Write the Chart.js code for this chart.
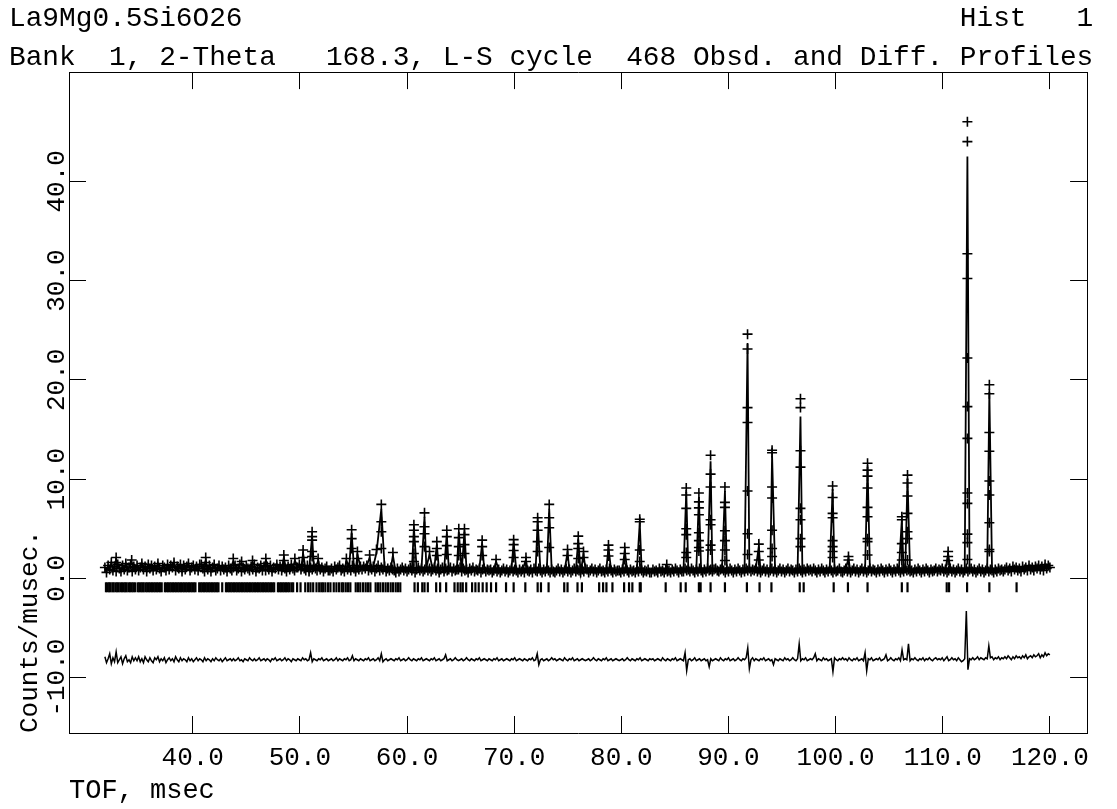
<!DOCTYPE html>
<html>
<head>
<meta charset="utf-8">
<script src="https://cdn.jsdelivr.net/npm/chart.js@4.4.0/dist/chart.umd.min.js"></script>
<style>
  html, body { margin: 0; padding: 0; background: #fff; }
  canvas { display: block; }
</style>
</head>
<body>
<canvas id="profileChart" width="1117" height="809"></canvas>
<script>
// background channels: first TOF and channel step (msec)
const bgStart = 31.8;
const bgStep = 0.15;

// observed counts on the background channels (one row = 3 msec)
const bgCounts = [
  1.1, 0.6, 1.3, 0.9, 1.6, 0.8, 1.2, 0.7, 1.4, 1.0, 0.7, 1.3, 0.9, 1.5, 0.8, 1.1, 1.4, 0.7, 1.2, 0.9,
  1.3, 0.8, 1.1, 1.5, 0.9, 1.2, 0.7, 1.4, 1.0, 1.3, 0.8, 1.2, 0.9, 1.5, 1.0, 0.7, 1.3, 1.1, 0.8, 1.4,
  0.9, 1.3, 1.1, 1.6, 0.8, 1.2, 1.0, 1.4, 0.7, 1.3, 0.9, 1.2, 1.5, 0.8, 1.1, 1.3, 0.9, 1.2, 0.8, 1.4,
  1.4, 1.0, 0.7, 1.2, 0.9, 1.3, 0.7, 1.1, 1.4, 0.8, 1.0, 1.3, 0.8, 1.2, 0.9, 1.1, 0.7, 1.3, 1.0, 0.8,
  1.1, 1.3, 0.8, 1.0, 1.4, 0.7, 1.1, 0.9, 1.3, 1.0, 0.8, 1.2, 0.9, 1.4, 0.7, 1.1, 1.0, 1.3, 0.8, 1.2,
  0.8, 1.2, 0.9, 1.3, 0.7, 1.1, 1.0, 1.4, 0.9, 1.2, 0.8, 1.3, 1.0, 0.7, 1.2, 0.9, 1.4, 1.0, 0.8, 1.1,
  1.1, 1.4, 0.9, 1.2, 1.0, 0.8, 1.3, 0.7, 1.1, 0.9, 1.2, 1.0, 0.8, 1.3, 0.9, 1.1, 0.7, 1.0, 1.2, 0.8,
  0.8, 1.0, 0.7, 1.2, 0.9, 1.1, 1.3, 0.8, 1.0, 0.7, 1.2, 0.9, 1.1, 0.8, 1.3, 1.0, 0.7, 1.1, 0.9, 1.2,
  0.9, 1.2, 1.0, 1.3, 0.8, 1.1, 0.9, 1.2, 0.7, 1.0, 1.3, 0.8, 1.1, 0.9, 1.2, 0.7, 1.0, 0.8, 1.1, 0.9,
  0.8, 0.6, 1.0, 0.7, 0.9, 1.1, 0.8, 1.0, 0.7, 0.9, 1.1, 0.8, 1.0, 0.6, 0.9, 1.1, 0.8, 1.0, 0.7, 0.9,
  1.1, 0.8, 1.0, 0.7, 0.9, 1.1, 0.8, 1.0, 0.6, 0.9, 1.1, 0.7, 1.0, 0.8, 0.9, 1.1, 0.7, 1.0, 0.8, 0.9,
  0.9, 1.1, 0.7, 1.0, 0.8, 0.9, 0.6, 1.0, 0.8, 1.1, 0.7, 0.9, 0.8, 1.0, 0.6, 0.9, 1.0, 0.7, 0.9, 0.8,
  0.9, 0.6, 0.8, 1.0, 0.7, 0.9, 0.6, 0.8, 1.0, 0.7, 0.9, 0.6, 0.8, 1.0, 0.7, 0.9, 0.8, 0.6, 0.9, 0.7,
  0.9, 0.6, 1.0, 0.8, 0.7, 0.9, 0.6, 1.0, 0.8, 0.7, 1.0, 0.8, 0.6, 0.9, 0.7, 1.0, 0.8, 0.6, 0.9, 0.7,
  0.6, 0.8, 1.0, 0.7, 0.9, 0.6, 0.8, 1.0, 0.7, 0.9, 0.6, 0.8, 1.0, 0.7, 0.9, 0.8, 0.6, 0.9, 0.7, 1.0,
  0.9, 0.6, 0.8, 1.0, 0.7, 0.9, 0.6, 0.8, 1.0, 0.7, 0.8, 0.6, 0.9, 0.7, 1.0, 0.8, 0.6, 0.9, 0.7, 0.8,
  0.8, 0.6, 0.9, 0.7, 1.0, 0.8, 0.6, 0.9, 0.7, 0.8, 0.6, 0.9, 0.7, 1.0, 0.8, 0.6, 0.8, 0.7, 0.9, 0.6,
  0.6, 0.9, 0.7, 0.8, 0.6, 1.0, 0.7, 0.8, 0.6, 0.9, 0.7, 0.8, 0.6, 0.9, 0.7, 1.0, 0.8, 0.6, 0.9, 0.7,
  0.7, 1.0, 0.8, 0.9, 0.7, 1.0, 0.8, 0.6, 0.9, 0.7, 1.0, 0.8, 0.6, 0.9, 0.7, 1.0, 0.8, 0.9, 0.7, 0.9,
  1.0, 0.8, 0.7, 0.9, 1.0, 0.8, 0.6, 0.9, 0.7, 1.0, 0.8, 0.6, 0.9, 0.7, 1.0, 0.8, 0.6, 0.9, 0.7, 1.0,
  0.8, 1.0, 0.7, 0.9, 0.8, 1.0, 0.7, 0.9, 0.6, 0.8, 1.0, 0.7, 0.9, 0.6, 0.8, 1.0, 0.7, 0.9, 0.6, 0.8,
  1.0, 0.7, 0.9, 0.6, 0.8, 1.0, 0.7, 0.9, 0.8, 0.6, 0.9, 0.7, 1.0, 0.8, 0.6, 0.9, 0.7, 1.0, 0.8, 0.9,
  0.7, 1.0, 0.8, 0.6, 0.9, 0.7, 1.0, 0.8, 0.6, 0.9, 0.7, 1.0, 0.8, 0.6, 0.9, 0.7, 0.8, 1.0, 0.7, 0.6,
  0.8, 1.0, 0.7, 0.9, 0.6, 0.8, 1.0, 0.7, 0.9, 0.6, 0.8, 1.0, 0.7, 0.9, 0.6, 0.8, 1.0, 0.7, 0.9, 0.8,
  0.6, 0.9, 0.7, 1.0, 0.8, 0.6, 0.9, 0.7, 1.0, 0.8, 0.6, 0.9, 0.7, 1.0, 0.8, 0.6, 0.9, 0.7, 1.0, 0.8,
  0.9, 0.7, 0.8, 0.6, 0.9, 0.7, 1.0, 0.8, 0.6, 0.9, 0.7, 1.0, 0.8, 0.6, 0.9, 0.7, 0.8, 1.0, 0.7, 0.9,
  0.8, 1.0, 0.7, 0.9, 0.6, 0.8, 1.0, 0.7, 0.9, 0.6, 0.8, 1.0, 0.7, 0.9, 0.6, 0.8, 1.0, 0.7, 0.9, 1.0,
  0.7, 0.9, 0.6, 0.8, 1.0, 0.7, 0.9, 0.6, 0.8, 1.0, 0.7, 0.9, 0.8, 0.6, 0.9, 0.7, 1.0, 0.8, 0.9, 0.7,
  0.9, 1.1, 0.8, 1.0, 0.7, 1.2, 0.9, 1.1, 0.8, 1.0, 0.7, 1.2, 0.9, 1.1, 0.8, 1.3, 0.9, 1.1, 0.8, 1.2,
  1.0, 1.3, 0.9, 1.2, 0.8, 1.4, 1.0, 1.3, 1.1
];

// difference curve on the same channels (plotted with its offset, one row = 3 msec)
const diffStart = 31.8;
const diffStep = 0.15;
const diffCounts = [
  -7.9, -8.5, -8.1, -7.6, -8.6, -8.0, -8.4, -7.4, -8.5, -8.2, -7.9, -8.6, -8.1, -7.8, -8.4, -8.2, -8.5, -7.9, -8.3, -8.0,
  -8.3, -7.9, -8.4, -8.1, -8.5, -7.9, -8.2, -8.4, -8.0, -8.3, -8.5, -8.0, -8.2, -7.9, -8.4, -8.1, -8.3, -8.0, -8.5, -8.2,
  -8.0, -8.3, -8.1, -8.4, -7.9, -8.2, -8.4, -8.0, -8.3, -8.1, -8.2, -8.4, -8.0, -8.3, -8.1, -8.4, -8.2, -8.0, -8.3, -8.1,
  -8.2, -8.4, -8.0, -8.3, -8.1, -8.2, -8.4, -8.1, -8.3, -8.0, -8.2, -8.3, -8.1, -8.4, -8.2, -8.0, -8.3, -8.2, -8.1, -8.3,
  -8.1, -8.3, -8.2, -8.0, -8.3, -8.2, -8.4, -8.1, -8.2, -8.3, -8.0, -8.2, -8.3, -8.1, -8.3, -8.2, -8.0, -8.3, -8.2, -8.1,
  -8.3, -8.1, -8.2, -8.4, -8.1, -8.2, -8.0, -8.3, -8.2, -8.1, -8.3, -8.2, -8.0, -8.3, -8.1, -8.2, -8.4, -8.1, -8.2, -8.3,
  -8.1, -8.2, -8.3, -8.0, -8.2, -8.1, -8.3, -8.2, -7.5, -8.4, -8.1, -8.2, -8.3, -8.1, -8.2, -8.0, -8.3, -8.2, -8.1, -8.3,
  -8.2, -8.1, -8.3, -8.2, -8.0, -8.3, -8.1, -8.2, -8.3, -8.1, -8.2, -8.0, -8.3, -8.2, -7.8, -8.3, -8.1, -8.2, -8.3, -8.1,
  -8.2, -8.3, -8.1, -8.2, -8.0, -8.3, -8.2, -8.1, -8.3, -8.2, -8.0, -8.3, -7.6, -8.4, -8.2, -8.1, -8.3, -8.2, -8.1, -8.2,
  -8.3, -8.1, -8.2, -8.0, -8.3, -8.2, -8.1, -8.3, -8.2, -8.0, -8.2, -8.3, -8.1, -8.2, -8.3, -8.1, -8.2, -8.0, -8.3, -8.2,
  -8.1, -8.2, -8.3, -8.1, -8.2, -8.0, -8.3, -8.2, -8.1, -8.3, -8.2, -8.1, -7.7, -8.3, -8.2, -8.1, -8.3, -8.2, -8.0, -8.2,
  -8.3, -8.2, -8.1, -8.3, -8.2, -8.0, -8.2, -8.3, -8.1, -8.2, -8.3, -8.1, -8.2, -8.0, -8.3, -8.2, -8.1, -8.2, -8.3, -8.1,
  -8.2, -8.3, -8.1, -8.2, -8.0, -8.3, -8.2, -8.1, -8.3, -8.2, -8.1, -8.2, -8.3, -8.1, -8.2, -8.0, -8.3, -8.2, -8.1, -8.2,
  -8.3, -8.1, -8.2, -8.3, -8.1, -8.2, -8.0, -8.3, -8.2, -7.6, -8.7, -8.2, -8.1, -8.3, -8.2, -8.1, -8.3, -8.2, -8.0, -8.2,
  -8.1, -8.3, -8.2, -8.1, -8.2, -8.3, -8.0, -8.2, -8.3, -8.1, -8.2, -8.0, -8.3, -8.2, -8.1, -8.3, -8.2, -8.1, -8.2, -8.3,
  -8.2, -8.1, -8.3, -8.2, -8.0, -8.2, -8.3, -8.1, -8.2, -8.3, -8.1, -8.2, -8.0, -8.3, -8.2, -8.1, -8.3, -8.2, -8.1, -8.2,
  -8.3, -8.2, -8.1, -8.3, -8.2, -8.0, -8.2, -8.3, -8.1, -8.2, -8.3, -8.1, -8.2, -8.0, -8.3, -8.2, -8.1, -8.2, -8.3, -8.1,
  -8.2, -8.1, -8.3, -8.2, -8.1, -8.2, -8.3, -8.0, -8.2, -8.3, -8.1, -8.2, -8.3, -8.1, -8.2, -8.0, -8.3, -8.2, -8.1, -8.2,
  -8.3, -7.5, -9.3, -8.2, -8.1, -8.3, -8.2, -8.0, -8.3, -8.2, -8.1, -8.3, -8.2, -8.1, -8.3, -8.2, -8.9, -8.1, -8.3, -8.2,
  -8.1, -8.2, -8.3, -8.0, -8.2, -8.3, -8.1, -8.2, -8.0, -8.3, -8.2, -8.1, -8.3, -8.2, -8.0, -8.2, -8.3, -8.1, -8.2, -8.0,
  -7.0, -9.1, -8.2, -8.0, -8.3, -8.1, -8.2, -8.3, -8.1, -8.2, -8.0, -8.3, -8.2, -8.1, -8.3, -8.2, -8.7, -8.1, -8.2, -8.3,
  -8.1, -8.2, -8.3, -8.0, -8.2, -8.1, -8.3, -8.2, -8.0, -8.2, -8.3, -8.1, -6.6, -8.3, -8.1, -8.2, -8.0, -8.3, -8.2, -8.1,
  -8.2, -8.0, -7.6, -8.3, -8.1, -8.2, -8.3, -8.0, -8.2, -8.1, -8.3, -8.2, -8.1, -9.4, -8.0, -8.2, -8.3, -8.1, -8.2, -8.0,
  -8.2, -8.1, -8.3, -8.0, -8.2, -8.3, -8.1, -8.2, -8.0, -8.3, -8.2, -8.1, -8.3, -7.5, -9.3, -8.1, -8.2, -8.0, -8.3, -8.2,
  -8.1, -8.2, -8.0, -8.3, -8.2, -8.1, -7.7, -8.3, -8.2, -8.0, -8.2, -8.3, -8.1, -8.2, -8.0, -8.3, -7.2, -8.2, -8.1, -8.2,
  -6.6, -8.3, -8.1, -8.2, -8.0, -8.2, -8.3, -8.1, -8.2, -8.0, -8.3, -8.1, -8.2, -8.0, -8.2, -8.3, -8.1, -8.0, -8.2, -8.1,
  -8.2, -8.0, -8.3, -8.1, -7.9, -8.3, -8.2, -8.0, -8.2, -8.1, -8.3, -8.0, -8.2, -8.4, -8.3, -8.1, -3.3, -9.2, -8.1, -8.2,
  -8.0, -8.2, -8.1, -7.9, -8.2, -8.0, -8.1, -8.2, -8.0, -8.1, -6.8, -8.0, -7.9, -8.2, -8.0, -8.1, -7.9, -8.2, -8.0, -8.1,
  -7.9, -8.1, -7.8, -8.0, -8.2, -7.9, -8.1, -7.8, -8.0, -7.9, -8.1, -7.8, -8.0, -7.7, -8.1, -7.9, -7.8, -8.0, -7.7, -7.9,
  -7.8, -7.6, -8.0, -7.7, -7.9, -7.5, -7.8, -7.6, -7.7
];

// Bragg peaks: centre (msec), calculated top, observed points on the peak
const peakTof = [
  32.85, 34.30, 41.21, 43.78, 44.56, 45.58, 46.82, 48.50, 49.53, 50.30,
  51.14, 51.70, 54.34, 54.83, 55.37, 56.51, 57.15, 57.60, 58.68, 60.64,
  61.63, 62.10, 62.78, 63.71, 64.83, 65.36, 67.01, 68.31, 69.95, 71.10,
  72.19, 73.27, 74.98, 75.98, 76.47, 78.80, 80.32, 81.72, 84.24, 86.06,
  87.24, 88.33, 89.67, 91.78, 92.83, 94.07, 96.72, 99.72, 101.20, 102.98,
  106.18, 106.71, 110.50, 112.30, 114.35
];
const peakCalc = [
  1.9, 1.6, 1.8, 1.7, 1.5, 1.6, 1.8, 2.1, 1.8, 2.5,
  4.3, 1.8, 1.8, 4.6, 2.4, 2.1, 2.6, 7.0, 2.3, 5.1,
  6.2, 2.4, 3.4, 4.5, 4.7, 4.7, 3.5, 1.7, 3.6, 1.9,
  5.8, 7.0, 2.6, 3.9, 2.4, 3.1, 2.8, 5.6, 1.3, 8.7,
  8.2, 11.8, 8.8, 23.7, 3.2, 12.4, 16.3, 9.0, 2.0, 11.2,
  5.9, 10.0, 2.5, 42.5, 18.8
];
const peakObs = [
  [2.1, 1.6], [1.85], [2.1, 1.6], [2.0], [1.7], [1.8], [2.0, 1.5], [2.35, 1.8], [2.0], [2.85, 2.1],
  [4.7, 4.2, 3.85, 2.7, 2.2], [2.0], [2.0], [4.9, 4.0, 3.0], [2.7, 2.0], [2.35], [2.9],
  [7.45, 5.7, 4.7, 3.0], [2.6], [5.4, 4.85, 4.2, 3.7, 2.5, 1.7],
  [6.6, 5.2, 4.5, 3.2], [2.7], [3.7, 3.0, 2.3], [4.85, 4.2, 3.3, 2.4], [5.0, 4.1, 3.2, 2.3],
  [5.0, 4.4, 3.4, 2.5], [3.85, 3.2, 2.3], [1.9], [3.9, 3.4, 2.8, 2.1], [2.1, 1.7],
  [6.1, 5.7, 4.85, 3.7, 2.7], [7.45, 6.1, 5.1, 3.1], [2.9, 2.3], [4.25, 3.5, 3.0, 2.0], [2.7, 2.1],
  [3.35, 2.85, 2.25], [3.1, 2.5, 1.9], [5.95, 5.7, 2.85, 1.7], [1.4],
  [9.1, 8.4, 7.05, 5.0, 4.4, 2.6, 2.1],
  [8.6, 7.7, 7.1, 6.4, 4.6, 3.8, 3.1, 2.75],
  [12.4, 10.5, 9.2, 5.9, 5.4, 3.35, 2.85],
  [9.2, 7.65, 7.15, 4.8, 3.8, 2.85, 1.8],
  [24.6, 23.1, 17.2, 15.7, 8.8, 4.5, 2.4],
  [3.45, 2.7, 1.85],
  [12.9, 12.65, 9.2, 8.1, 4.85, 3.0, 2.2],
  [18.1, 17.2, 12.85, 11.2, 7.05, 5.9, 4.0, 3.2],
  [9.3, 8.15, 6.55, 6.1, 3.8, 3.2, 2.7, 2.1],
  [2.2, 1.85],
  [11.6, 10.9, 10.3, 9.1, 7.15, 6.2, 4.0, 3.7, 2.35],
  [6.2, 5.9, 3.5, 2.6, 1.85],
  [10.4, 9.6, 8.3, 6.55, 4.7, 4.0, 1.85],
  [2.7, 2.2, 1.8],
  [46.0, 44.0, 32.7, 30.2, 22.2, 17.3, 14.1, 8.6, 7.55, 4.45, 3.6, 1.9],
  [19.5, 18.6, 14.7, 12.8, 9.8, 8.4, 5.6, 2.9, 2.7]
];

// reflection positions (msec)
const reflTof = [
  31.90, 32.05, 32.20, 32.32, 32.50, 32.62, 32.80, 32.95, 33.08, 33.25,
  33.40, 33.55, 33.70, 33.82, 34.00, 34.15, 34.30, 34.45, 34.60, 34.85,
  35.00, 35.15, 35.30, 35.42, 35.60, 35.75, 35.90, 36.05, 36.20, 36.35,
  36.50, 36.65, 36.80, 36.95, 37.10, 37.40, 37.55, 37.70, 37.85, 38.00,
  38.15, 38.30, 38.45, 38.60, 38.75, 38.90, 39.05, 39.20, 39.35, 39.50,
  39.65, 39.80, 39.95, 40.10, 40.25, 40.60, 40.75, 40.90, 41.05, 41.20,
  41.35, 41.50, 41.65, 41.80, 41.95, 42.10, 42.25, 42.40, 42.75, 43.10,
  43.25, 43.40, 43.55, 43.70, 43.85, 44.00, 44.15, 44.30, 44.45, 44.60,
  44.75, 44.90, 45.05, 45.20, 45.35, 45.50, 45.65, 45.80, 45.95, 46.10,
  46.25, 46.40, 46.55, 46.70, 46.85, 47.00, 47.15, 47.30, 47.45, 47.60,
  47.95, 48.10, 48.25, 48.40, 48.55, 48.70, 48.85, 49.00, 49.20, 49.37,
  49.74, 50.06, 50.50, 50.77, 50.99, 51.24, 51.55, 51.80, 52.00, 52.17,
  52.38, 52.63, 52.85, 53.16, 53.41, 53.66, 53.90, 54.05, 54.28, 54.50,
  54.71, 55.21, 55.43, 55.64, 55.90, 56.14, 56.36, 56.58, 57.07, 57.29,
  57.51, 57.76, 58.00, 58.22, 58.47, 58.69, 58.94, 59.15, 59.37, 60.70,
  61.01, 61.42, 61.63, 61.94, 62.72, 63.09, 63.65, 64.43, 64.73, 64.99,
  65.20, 65.52, 66.07, 66.38, 66.69, 67.06, 67.43, 67.84, 68.31, 69.24,
  69.95, 71.04, 72.19, 72.50, 73.21, 74.67, 74.98, 75.91, 76.32, 77.93,
  78.30, 78.61, 79.17, 80.26, 80.72, 81.03, 81.72, 81.81, 84.14, 85.54,
  86.01, 87.24, 87.40, 88.33, 89.67, 91.72, 92.90, 94.01, 96.65, 97.02,
  99.82, 101.15, 102.98, 106.18, 106.71, 110.37, 110.59, 112.27, 114.35, 116.89
];

const xTickValues = [40, 50, 60, 70, 80, 90, 100, 110, 120];
const yTickValues = [-10, 0, 10, 20, 30, 40];

const headerLeft = 'La9Mg0.5Si6O26';
const headerRight = 'Hist   1';
const headerLine2 = 'Bank  1, 2-Theta   168.3, L-S cycle  468 Obsd. and Diff. Profiles';

// ---- build the point lists ----
const reflLevel = -0.9;
const bgTof = bgCounts.map((_, i) => +(bgStart + i * bgStep).toFixed(2));

const obsPoints = bgCounts.map((v, i) => ({ x: bgTof[i], y: v }));
peakTof.forEach((t, i) => peakObs[i].forEach(v => obsPoints.push({ x: t, y: v })));

// calculated profile: background channels, peak tops replace the channels under them
const calcPoints = bgCounts
  .map((v, i) => ({ x: bgTof[i], y: v }))
  .filter(p => !peakTof.some(t => Math.abs(p.x - t) < 0.15));
peakTof.forEach((t, i) => calcPoints.push({ x: t, y: peakCalc[i] }));
calcPoints.sort((a, b) => a.x - b.x);

const diffPoints = diffCounts.map((v, i) => ({ x: +(diffStart + i * diffStep).toFixed(2), y: v }));
const reflPoints = reflTof.map(t => ({ x: t, y: reflLevel }));

const mono = "'Liberation Mono', 'Courier New', monospace";
const black = '#000';

const xMin = 28.45, xMax = 123.47;
const yMin = -15.58, yMax = 51.0;

const axisGrid = { drawOnChartArea: false, tickLength: -17, color: black, lineWidth: 1 };
const axisBorder = { display: true, color: black, width: 1 };

const ctx = document.getElementById('profileChart').getContext('2d');
const profileChart = new Chart(ctx, {
  type: 'scatter',
  data: {
    datasets: [
      {
        label: 'Obsd.',
        data: obsPoints,
        pointStyle: 'cross',
        pointRadius: 5,
        borderColor: black,
        backgroundColor: black,
        borderWidth: 1.6
      },
      {
        label: 'Calc.',
        type: 'line',
        data: calcPoints,
        borderColor: black,
        borderWidth: 1.8,
        pointRadius: 0,
        tension: 0
      },
      {
        label: 'Diff.',
        type: 'line',
        data: diffPoints,
        borderColor: black,
        borderWidth: 1.5,
        pointRadius: 0,
        tension: 0
      },
      {
        label: 'Reflections',
        data: reflPoints,
        pointStyle: 'line',
        rotation: 90,
        pointRadius: 5,
        borderColor: black,
        borderWidth: 2.2
      }
    ]
  },
  options: {
    responsive: false,
    animation: false,
    events: [],
    layout: { padding: { left: 9, right: 0, top: 0, bottom: 0 } },
    plugins: {
      legend: { display: false },
      tooltip: { enabled: false },
      title: {
        display: true,
        text: headerLeft.padEnd(57) + headerRight,
        align: 'start',
        color: black,
        font: { family: mono, size: 27.8, weight: 'normal', lineHeight: 1 },
        padding: { top: 5, bottom: 5 }
      },
      subtitle: {
        display: true,
        text: headerLine2,
        align: 'start',
        color: black,
        font: { family: mono, size: 27.8, weight: 'normal', lineHeight: 1 },
        padding: { top: 5.5, bottom: 1 }
      }
    },
    scales: {
      x: {
        type: 'linear',
        position: 'bottom',
        min: xMin,
        max: xMax,
        afterBuildTicks: s => { s.ticks = xTickValues.map(v => ({ value: v })); },
        afterFit: s => { s.height = 76; },
        ticks: {
          callback: v => v.toFixed(1),
          autoSkip: false,
          maxRotation: 0,
          minRotation: 0,
          padding: 27,
          color: black,
          font: { family: mono, size: 26 }
        },
        grid: axisGrid,
        border: axisBorder,
        title: {
          display: true,
          text: 'TOF, msec',
          align: 'start',
          color: black,
          font: { family: mono, size: 27 },
          padding: { top: 0, bottom: 2 }
        }
      },
      xTop: {
        type: 'linear',
        position: 'top',
        min: xMin,
        max: xMax,
        afterBuildTicks: s => { s.ticks = xTickValues.map(v => ({ value: v })); },
        afterFit: s => { s.height = 0; },
        ticks: { display: false },
        grid: axisGrid,
        border: axisBorder
      },
      y: {
        type: 'linear',
        position: 'left',
        min: yMin,
        max: yMax,
        afterBuildTicks: s => { s.ticks = yTickValues.map(v => ({ value: v })); },
        afterFit: s => { s.width = 60; },
        ticks: {
          callback: v => v.toFixed(1),
          autoSkip: false,
          minRotation: 90,
          maxRotation: 90,
          crossAlign: 'center',
          padding: -10,
          color: black,
          font: { family: mono, size: 26 }
        },
        grid: axisGrid,
        border: axisBorder,
        title: {
          display: true,
          text: 'Counts/musec.',
          align: 'start',
          color: black,
          font: { family: mono, size: 26 },
          padding: { top: 6, bottom: 0 }
        }
      },
      yRight: {
        type: 'linear',
        position: 'right',
        min: yMin,
        max: yMax,
        afterBuildTicks: s => { s.ticks = yTickValues.map(v => ({ value: v })); },
        afterFit: s => { s.width = 28; },
        ticks: { display: false },
        grid: axisGrid,
        border: axisBorder
      }
    }
  }
});
</script>
</body>
</html>
